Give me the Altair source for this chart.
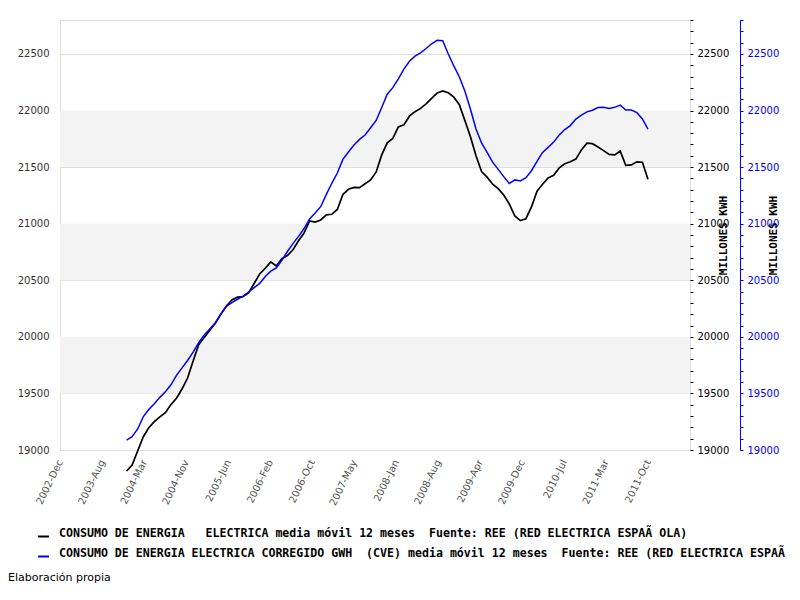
import altair as alt
import pandas as pd

# ---------------- data ----------------
X_LABELS = ["2002-Dec", "2003-Aug", "2004-Mar", "2004-Nov", "2005-Jun", "2006-Feb",
            "2006-Oct", "2007-May", "2008-Jan", "2008-Aug", "2009-Apr", "2009-Dec",
            "2010-Jul", "2011-Mar", "2011-Oct"]
N_MONTHS = 107          # Dec 2002 .. Oct 2011 (month index 0..106)
START_MONTH = 12        # first moving-average value: Dec 2003

NB = "\u00a0"
SERIE_BLACK = ("CONSUMO DE ENERGIA" + NB * 3 + "ELECTRICA media móvil 12 meses" + NB * 2 +
               "Fuente: REE (RED ELECTRICA ESPAÃ OLA)")
SERIE_BLUE = ("CONSUMO DE ENERGIA ELECTRICA CORREGIDO GWH" + NB * 2 + "(CVE) media móvil 12 meses" +
              NB * 2 + "Fuente: REE (RED ELECTRICA ESPAÃ OLA)")
AXIS_TITLE = "MILLONES KWH"
FOOTER = "Elaboración propia"

BLACK = [18814, 18867, 18991, 19115, 19197, 19250, 19293, 19330, 19401, 19457,
         19539, 19636, 19787, 19931, 19994, 20058, 20119, 20199, 20273, 20326,
         20351, 20355, 20388, 20471, 20556, 20606, 20662, 20626, 20691, 20718,
         20770, 20849, 20918, 21024, 21014, 21033, 21078, 21083, 21126, 21258,
         21304, 21320, 21319, 21353, 21387, 21457, 21608, 21714, 21753, 21855,
         21873, 21950, 21990, 22019, 22059, 22108, 22156, 22174, 22157, 22118,
         22051, 21911, 21768, 21600, 21461, 21411, 21349, 21310, 21253, 21174,
         21068, 21027, 21044, 21148, 21288, 21349, 21404, 21428, 21493, 21530,
         21547, 21571, 21652, 21711, 21707, 21678, 21646, 21612, 21608, 21641,
         21515, 21519, 21547, 21543, 21393]

BLUE = [19088, 19118, 19186, 19293, 19358, 19408, 19465, 19514, 19576, 19659,
        19726, 19791, 19865, 19948, 20017, 20070, 20125, 20203, 20269, 20303,
        20332, 20359, 20396, 20435, 20472, 20534, 20580, 20610, 20676, 20754,
        20824, 20888, 20957, 21042, 21094, 21150, 21257, 21357, 21448, 21568,
        21634, 21696, 21745, 21784, 21848, 21912, 22027, 22144, 22202, 22280,
        22366, 22435, 22480, 22510, 22548, 22590, 22621, 22617, 22500, 22394,
        22296, 22171, 22011, 21837, 21713, 21631, 21544, 21480, 21416, 21356,
        21387, 21378, 21406, 21468, 21550, 21630, 21674, 21721, 21784, 21832,
        21867, 21924, 21960, 21988, 22003, 22027, 22028, 22019, 22028, 22048,
        22004, 22004, 21981, 21926, 21835]

BAND_LO = [19500, 20500, 21500]
BAND_HI = [20000, 21000, 22000]
Y_MIN, Y_MAX = 19000, 22800

# ---------------- layout ----------------
W, H = 630, 430
X_MAX = 113.58

months = list(range(START_MONTH, START_MONTH + len(BLACK)))
df_black = pd.DataFrame({"m": months, "v": BLACK, "serie": SERIE_BLACK})
df_blue = pd.DataFrame({"m": months, "v": BLUE, "serie": SERIE_BLUE})
df_band = pd.DataFrame({"lo": BAND_LO, "hi": BAND_HI})

step = (N_MONTHS - 1) / (len(X_LABELS) - 1)
tick_vals = [i * step for i in range(len(X_LABELS))]
label_expr = "[" + ",".join("'%s'" % s for s in X_LABELS) + "][round(datum.value / %f)]" % step

x_enc = alt.X("m:Q", scale=alt.Scale(domain=[0, X_MAX], nice=False, zero=False),
              axis=alt.Axis(values=tick_vals, labelExpr=label_expr, labelAngle=296,
                            labelAlign="right", labelBaseline="middle", ticks=False,
                            domain=False, grid=False, labelColor="#555555",
                            labelPadding=10, labelFontSize=10, title=None,
                            labelOverlap=False))

yscale = alt.Scale(domain=[Y_MIN, Y_MAX], nice=False, zero=False)
major = list(range(Y_MIN, Y_MAX + 1, 500))
minor = list(range(Y_MIN, Y_MAX + 1, 100))
only_major = "datum.value % 500 === 0 ? datum.label : ''"

color = alt.Color("serie:N",
                  scale=alt.Scale(domain=[SERIE_BLACK, SERIE_BLUE], range=["#000000", "#0000ff"]),
                  legend=alt.Legend(orient="none", legendX=-23, legendY=510,
                                    direction="vertical", symbolType="stroke",
                                    symbolSize=121, symbolStrokeWidth=2,
                                    labelFont="DejaVu Sans Mono", labelFontWeight="bold",
                                    labelFontSize=11.6, labelColor="black",
                                    labelLimit=3000, labelOffset=9,
                                    labelBaseline="alphabetic", rowPadding=6,
                                    title=None, padding=0))

bands = alt.Chart(df_band).mark_rect(color="#f3f3f3").encode(
    x=alt.value(0), x2=alt.value(W),
    y=alt.Y("lo:Q", scale=yscale,
            axis=alt.Axis(orient="left", values=major, grid=True, gridColor="#dddddd",
                          ticks=False, domain=False, labelColor="#333333",
                          labelPadding=11, labelFontSize=10, format="d", title=None)),
    y2="hi:Q",
)

line_black = alt.Chart(df_black).mark_line(strokeWidth=1.7).encode(
    x=x_enc,
    y=alt.Y("v:Q", scale=yscale,
            axis=alt.Axis(orient="right", values=minor, labelExpr=only_major,
                          labelOverlap=False, grid=False, ticks=True, tickSize=3,
                          tickColor="black", domain=False, labelColor="black",
                          labelPadding=4, labelFontSize=10, format="d",
                          title=AXIS_TITLE, titleFont="DejaVu Sans Mono",
                          titleFontWeight="bold", titleFontSize=11, titleAngle=270,
                          titleX=33, titleY=H / 2, titleAlign="center",
                          titleBaseline="middle", titleColor="black")),
    color=color,
)

line_blue = alt.Chart(df_blue).mark_line(strokeWidth=1.5).encode(
    x=x_enc,
    y=alt.Y("v:Q", scale=yscale,
            axis=alt.Axis(orient="right", offset=50, values=minor, labelExpr=only_major,
                          labelOverlap=False, grid=False, ticks=True, tickSize=3,
                          tickColor="#0000ff", domain=True, domainColor="#0000ff",
                          labelColor="#0000ff", labelPadding=4, labelFontSize=10,
                          format="d", title=AXIS_TITLE, titleFont="DejaVu Sans Mono",
                          titleFontWeight="bold", titleFontSize=11, titleAngle=270,
                          titleX=33, titleY=H / 2, titleAlign="center",
                          titleBaseline="middle", titleColor="black")),
    color=color,
)

footer = alt.Chart(pd.DataFrame({"t": [FOOTER]})).mark_text(
    align="left", baseline="middle", font="DejaVu Sans", fontSize=11, color="black"
).encode(x=alt.value(-52), y=alt.value(558), text="t:N")

chart = alt.layer(bands, line_black, line_blue, footer).resolve_scale(
    y="independent"
).properties(
    width=W, height=H,
    autosize=alt.AutoSizeParams(type="none"),
    padding={"left": 52, "top": 12, "right": 100, "bottom": 140},
).configure_view(stroke="#dddddd", strokeWidth=1).configure_axis(
    labelFont="DejaVu Sans"
)

chart.save("out.html", embed_options={"renderer": "svg", "actions": False})
